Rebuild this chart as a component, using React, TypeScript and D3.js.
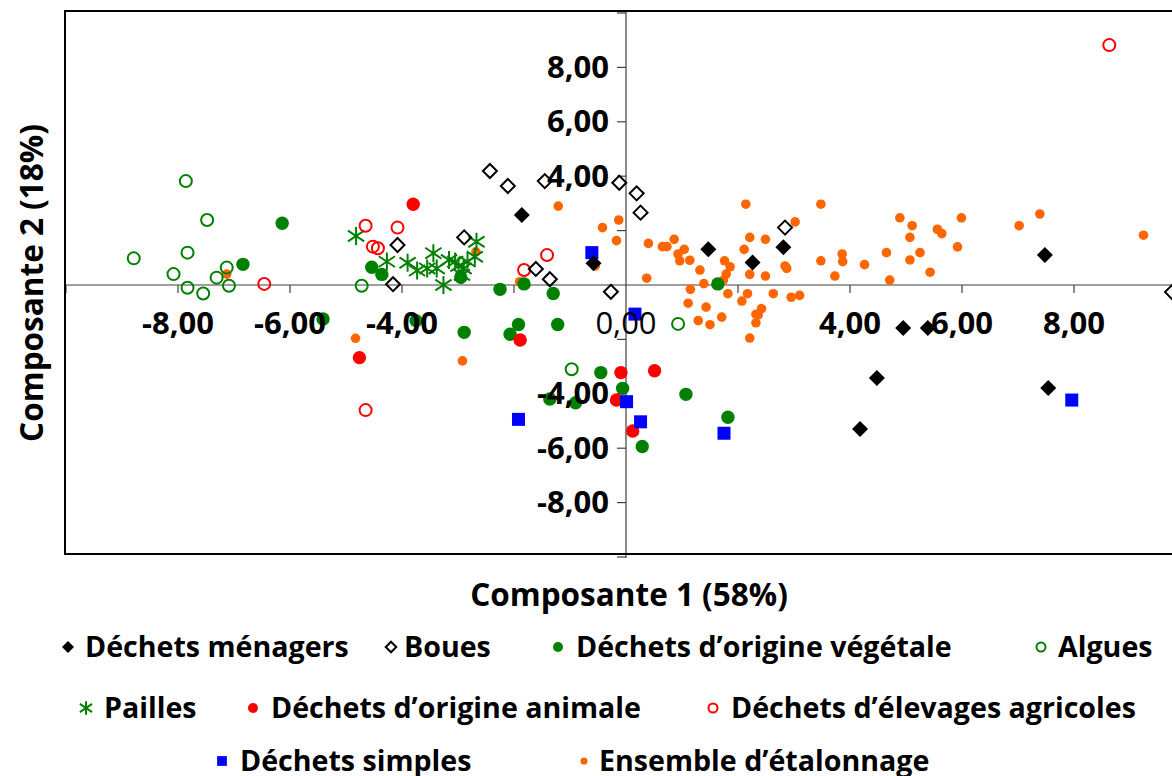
import React from "react";
import * as d3 from "d3";

// ---------- DATA ----------
const menagers: [number, number][] = [
  [-1.86, 2.57], [-0.58, 0.8], [1.47, 1.31], [2.26, 0.83], [2.81, 1.39], [7.48, 1.1],
  [4.95, -1.58], [5.39, -1.58], [4.48, -3.42], [4.18, -5.29], [7.54, -3.79],
];
const boues: [number, number][] = [
  [-2.43, 4.19], [-2.11, 3.64], [-1.45, 3.82], [-0.12, 3.76], [0.19, 3.37], [0.26, 2.66],
  [2.84, 2.11], [-2.89, 1.75], [-4.08, 1.47], [-4.16, 0.03], [-1.61, 0.59], [-1.36, 0.21],
  [-0.27, -0.25], [9.75, -0.26],
];
const vegetale: [number, number][] = [
  [-6.14, 2.27], [-6.84, 0.76], [-5.41, -1.25], [-4.54, 0.65], [-4.36, 0.39], [-2.95, 0.28],
  [-2.25, -0.16], [-1.82, 0.04], [-1.3, -0.31], [1.64, 0.04], [-3.75, -1.31], [-2.89, -1.74],
  [-1.92, -1.45], [-2.07, -1.81], [-1.22, -1.45], [-0.45, -3.22], [-0.06, -3.8], [-1.36, -4.19],
  [-0.9, -4.33], [1.07, -4.02], [1.82, -4.86], [0.29, -5.94],
];
const algues: [number, number][] = [
  [-7.86, 3.82], [-7.48, 2.39], [-8.79, 0.98], [-7.83, 1.19], [-8.08, 0.4], [-7.83, -0.1],
  [-7.55, -0.31], [-7.31, 0.27], [-7.13, 0.64], [-7.09, -0.03], [-4.72, -0.03], [0.93, -1.43],
  [-0.97, -3.1],
];
const pailles: [number, number][] = [
  [-4.82, 1.8], [-4.27, 0.86], [-3.9, 0.82], [-3.73, 0.53], [-3.44, 1.17], [-3.55, 0.61],
  [-3.38, 0.61], [-3.26, 0.0], [-3.16, 0.92], [-3.05, 0.86], [-2.99, 0.7], [-2.9, 0.61],
  [-2.83, 0.86], [-2.67, 1.59], [-2.7, 1.04], [-2.93, 0.37],
];
const animale: [number, number][] = [
  [-3.8, 2.97], [-4.76, -2.67], [-1.89, -2.02], [-0.09, -3.22], [0.51, -3.15], [-0.17, -4.23],
  [0.12, -5.37],
];
const elevages: [number, number][] = [
  [8.63, 8.82], [-6.46, 0.04], [-4.65, 2.18], [-4.08, 2.11], [-4.52, 1.41], [-4.43, 1.35],
  [-1.41, 1.1], [-1.82, 0.55], [-4.65, -4.6],
];
const simples: [number, number][] = [
  [-0.61, 1.19], [0.16, -1.07], [-1.92, -4.94], [0.01, -4.29], [0.26, -5.03], [1.75, -5.45],
  [7.96, -4.23],
];
const etalonnage: [number, number][] = [
  [-7.13, 0.4], [-2.68, 1.22], [-1.21, 2.9], [-1.9, 0.12], [-0.42, 2.11], [-0.13, 2.39],
  [-0.17, 1.63], [-0.55, 0.7], [-4.83, -1.96], [-2.92, -2.79],
  [2.14, 2.97], [3.48, 2.97], [3.02, 2.32], [0.4, 1.53], [0.65, 1.41], [0.73, 1.41],
  [0.86, 1.68], [0.93, 1.14], [1.04, 1.31], [0.96, 0.89], [1.14, 0.91], [1.32, 0.55],
  [1.76, 0.89], [1.86, 0.67], [1.79, 0.4], [1.74, 0.18], [2.21, 1.75], [2.11, 1.31],
  [2.49, 1.68], [2.21, 0.39], [2.49, 0.33], [2.84, 0.7], [2.87, 0.61], [3.48, 0.89],
  [0.37, 0.25], [1.39, 0.05], [1.15, -0.16], [1.11, -0.67], [1.43, -0.81], [1.29, -1.31],
  [1.5, -1.46], [1.71, -1.18], [1.82, -0.32], [2.07, -0.59], [2.17, -0.32], [2.32, -1.08],
  [2.42, -0.87], [2.36, -1.1], [2.32, -1.39], [2.21, -1.95], [2.63, -0.32], [2.95, -0.45],
  [3.1, -0.38], [3.73, 0.33], [4.26, 0.75], [4.71, 0.18], [3.87, 0.86], [5.07, 0.92],
  [4.89, 2.47], [5.11, 2.18], [5.07, 1.75], [5.56, 2.05], [5.64, 1.89], [5.99, 2.47],
  [5.92, 1.4], [7.02, 2.18], [7.39, 2.61], [9.24, 1.83], [3.86, 1.14], [4.65, 1.19],
  [5.25, 1.19], [5.43, 0.47],
];

const xTickValues = [-8, -6, -4, 0, 4, 6, 8];
const yTickValues = [8, 6, 4, -4, -6, -8];
const tickMarks = [-10, -8, -6, -4, -2, 2, 4, 6, 8, 10];
const fmt = (v: number) => v.toFixed(2).replace(".", ",");

type Kind = "fdiamond" | "odiamond" | "fcircle" | "ocircle" | "star" | "square" | "dot";
interface Series { name: string; kind: Kind; color: string; data: [number, number][] }

const seriesDraw: Series[] = [
  { name: "Ensemble d’étalonnage", kind: "dot", color: "#FF6600", data: etalonnage },
  { name: "Algues", kind: "ocircle", color: "#008000", data: algues },
  { name: "Déchets d’origine végétale", kind: "fcircle", color: "#008000", data: vegetale },
  { name: "Pailles", kind: "star", color: "#008000", data: pailles },
  { name: "Déchets d’origine animale", kind: "fcircle", color: "#FF0000", data: animale },
  { name: "Déchets d’élevages agricoles", kind: "ocircle", color: "#FF0000", data: elevages },
  { name: "Boues", kind: "odiamond", color: "#000000", data: boues },
  { name: "Déchets simples", kind: "square", color: "#0000FF", data: simples },
  { name: "Déchets ménagers", kind: "fdiamond", color: "#000000", data: menagers },
];

function Marker({ kind, color, x, y, s = 1 }: { kind: Kind; color: string; x: number; y: number; s?: number }) {
  switch (kind) {
    case "fdiamond": {
      const r = 8 * s;
      return <path d={`M${x},${y - r}L${x + r},${y}L${x},${y + r}L${x - r},${y}Z`} fill={color} />;
    }
    case "odiamond": {
      const r = 7 * s;
      return <path d={`M${x},${y - r}L${x + r},${y}L${x},${y + r}L${x - r},${y}Z`} fill="none" stroke={color} strokeWidth={2} />;
    }
    case "fcircle":
      return <circle cx={x} cy={y} r={6.7 * s} fill={color} />;
    case "ocircle":
      return <circle cx={x} cy={y} r={6 * s} fill="none" stroke={color} strokeWidth={2} />;
    case "dot":
      return <circle cx={x} cy={y} r={4.8 * s} fill={color} />;
    case "square": {
      const h = 6.5 * s;
      return <rect x={x - h} y={y - h} width={2 * h} height={2 * h} fill={color} />;
    }
    case "star": {
      const r = 9 * s;
      const dx = r * 0.9, dy = r * 0.6;
      return (
        <path
          d={`M${x},${y - r}L${x},${y + r}M${x - dx},${y - dy}L${x + dx},${y + dy}M${x - dx},${y + dy}L${x + dx},${y - dy}`}
          stroke={color}
          strokeWidth={2}
          fill="none"
        />
      );
    }
  }
  return null;
}

const legendRows: { kind: Kind; color: string; label: string; mx: number; tx: number; y: number }[] = [
  { kind: "fdiamond", color: "#000000", label: "Déchets ménagers", mx: 68, tx: 85, y: 647 },
  { kind: "odiamond", color: "#000000", label: "Boues", mx: 391, tx: 404, y: 647 },
  { kind: "fcircle", color: "#008000", label: "Déchets d’origine végétale", mx: 558, tx: 576, y: 647 },
  { kind: "ocircle", color: "#008000", label: "Algues", mx: 1041, tx: 1058, y: 647 },
  { kind: "star", color: "#008000", label: "Pailles", mx: 86, tx: 104, y: 708 },
  { kind: "fcircle", color: "#FF0000", label: "Déchets d’origine animale", mx: 253, tx: 271, y: 708 },
  { kind: "ocircle", color: "#FF0000", label: "Déchets d’élevages agricoles", mx: 713, tx: 731, y: 708 },
  { kind: "square", color: "#0000FF", label: "Déchets simples", mx: 222, tx: 240, y: 761 },
  { kind: "dot", color: "#FF6600", label: "Ensemble d’étalonnage", mx: 584, tx: 599, y: 761 },
];

export default function App() {
  const W = 1172, H = 776;
  const x = d3.scaleLinear().domain([-10, 10]).range([66, 1186]);
  const y = d3.scaleLinear().domain([-10, 10]).range([557, 13]);
  const font = "'Open Sans', Lato, sans-serif";
  const frameTop = 11, frameBottom = 554;

  return (
    <svg width={W} height={H} style={{ position: "absolute", left: 0, top: 0, display: "block", background: "#fff" }} fontFamily={font}>
      <rect x={0} y={0} width={W} height={H} fill="#fff" />
      {/* axes through origin */}
      <line x1={x(0)} x2={x(0)} y1={frameTop} y2={frameBottom + 4} stroke="#404040" strokeWidth={1.2} />
      <line x1={x(-10)} x2={x(10)} y1={y(0)} y2={y(0)} stroke="#404040" strokeWidth={1.2} />
      {tickMarks.map((t) => (
        <line key={"xt" + t} x1={x(t)} x2={x(t)} y1={y(0)} y2={y(0) + 8} stroke="#404040" strokeWidth={1.2} />
      ))}
      {tickMarks.map((t) => (
        <line key={"yt" + t} x1={x(0) - 9} x2={x(0)} y1={y(t)} y2={y(t)} stroke="#404040" strokeWidth={1.2} />
      ))}
      {/* points */}
      {seriesDraw.map((s) => (
        <g key={s.name}>
          {s.data.map((d, i) => (
            <Marker key={i} kind={s.kind} color={s.color} x={x(d[0])} y={y(d[1])} />
          ))}
        </g>
      ))}
      {/* frame */}
      <rect x={65} y={frameTop} width={x(10) - 65} height={frameBottom - frameTop} fill="none" stroke="#000" strokeWidth={2} />
      {/* tick labels */}
      {xTickValues.map((t) => (
        <text key={"xl" + t} x={x(t)} y={y(0) + 49} textAnchor="middle" fontSize={31} fontWeight={t === 0 ? 400 : 700} fill="#000">
          {fmt(t)}
        </text>
      ))}
      {yTickValues.map((t) => (
        <text key={"yl" + t} x={x(0) - 17} y={y(t) + 10.5} textAnchor="end" fontSize={31} fontWeight={700} fill="#000">
          {fmt(t)}
        </text>
      ))}
      {/* axis titles */}
      <text x={629} y={606} textAnchor="middle" fontSize={31.5} fontWeight={700}>
        Composante 1 (58%)
      </text>
      <text transform={`translate(43,283) rotate(-90)`} textAnchor="middle" fontSize={31.5} fontWeight={700}>
        Composante 2 (18%)
      </text>
      {/* legend */}
      {legendRows.map((r) => (
        <g key={r.label}>
          <Marker kind={r.kind} color={r.color} x={r.mx} y={r.y} s={0.75} />
          <text x={r.tx} y={r.y + 10} fontSize={28.6} fontWeight={700}>
            {r.label}
          </text>
        </g>
      ))}
    </svg>
  );
}
